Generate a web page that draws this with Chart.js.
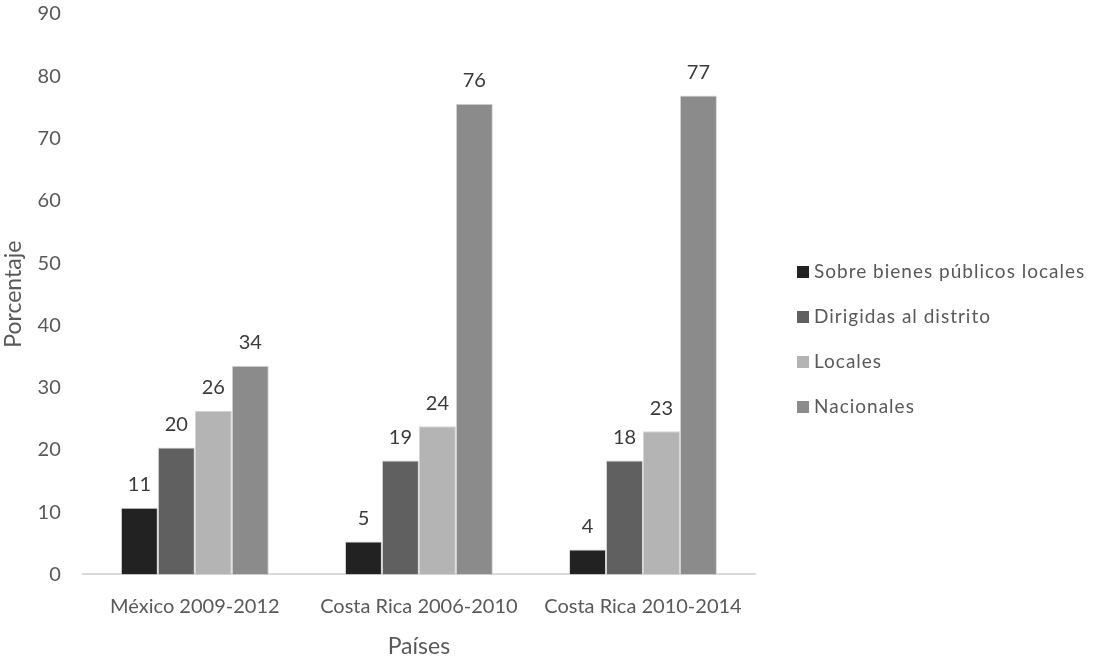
<!DOCTYPE html>
<html>
<head>
<meta charset="utf-8">
<script src="https://cdn.jsdelivr.net/npm/chart.js@4.4.0/dist/chart.umd.min.js"></script>
<style>
    html, body { margin: 0; padding: 0; background: #fff; }
    #wrap { width: 1097px; height: 662px; }
</style>
</head>
<body>
<div id="wrap"><canvas id="chart"></canvas></div>
<script>
// data
const categories = ['México 2009-2012', 'Costa Rica 2006-2010', 'Costa Rica 2010-2014'];
const seriesNames = ['Sobre bienes públicos locales', 'Dirigidas al distrito', 'Locales', 'Nacionales'];
const bienesPublicos = [10.7, 5.3, 4.0];
const dirigidas = [20.4, 18.3, 18.3];
const locales = [26.3, 23.8, 23.0];
const nacionales = [33.5, 75.6, 76.9];
// printed labels (as shown on the chart)
const bienesLabels = ['11', '5', '4'];
const dirigidasLabels = ['20', '19', '18'];
const localesLabels = ['26', '24', '23'];
const nacionalesLabels = ['34', '76', '77'];
const yMin = 0, yMax = 90, yStep = 10;

const FONT = 'Lato, "Open Sans", sans-serif';
const TEXT = '#595959';
const colors = ['#222222', '#5f605f', '#b4b4b5', '#8b8b8b'];

// value labels above bars
const barLabels = {
    id: 'barLabels',
    afterDatasetsDraw(chart) {
        const ctx = chart.ctx;
        ctx.save();
        ctx.font = '20px ' + FONT;
        ctx.fillStyle = '#3a3a3a';
        ctx.textAlign = 'center';
        ctx.textBaseline = 'middle';
        chart.data.datasets.forEach((ds, i) => {
            chart.getDatasetMeta(i).data.forEach((bar, j) => {
                ctx.fillText(ds.valueLabels[j], bar.x, bar.y - 23);
            });
        });
        ctx.restore();
    }
};

// legend on the right
const sideLegend = {
    id: 'sideLegend',
    afterDraw(chart) {
        const ctx = chart.ctx;
        const x = chart.chartArea.right + 42;
        const y0 = 272, gap = 45;
        ctx.save();
        ctx.font = '19px ' + FONT;
        ctx.letterSpacing = '1px';
        ctx.textBaseline = 'middle';
        chart.data.datasets.forEach((ds, i) => {
            const y = y0 + i * gap;
            ctx.fillStyle = ds.backgroundColor;
            ctx.fillRect(x, y - 6, 12, 12);
            ctx.fillStyle = TEXT;
            ctx.fillText(ds.label, x + 17, y);
        });
        ctx.restore();
    }
};

const ctx = document.getElementById('chart').getContext('2d');
new Chart(ctx, {
    type: 'bar',
    data: {
        labels: categories,
        datasets: [
            { label: seriesNames[0], data: bienesPublicos, valueLabels: bienesLabels, backgroundColor: colors[0] },
            { label: seriesNames[1], data: dirigidas, valueLabels: dirigidasLabels, backgroundColor: colors[1] },
            { label: seriesNames[2], data: locales, valueLabels: localesLabels, backgroundColor: colors[2] },
            { label: seriesNames[3], data: nacionales, valueLabels: nacionalesLabels, backgroundColor: colors[3] }
        ]
    },
    options: {
        responsive: true,
        maintainAspectRatio: false,
        animation: false,
        datasets: {
            bar: {
                categoryPercentage: 0.66,
                barPercentage: 1,
                borderWidth: 1,
                borderColor: '#d4d4d4'
            }
        },
        layout: { padding: { top: -1, right: 342, bottom: 2, left: 0 } },
        plugins: {
            legend: { display: false },
            tooltip: { enabled: false }
        },
        scales: {
            x: {
                grid: { display: false, drawTicks: true, tickLength: 18 },
                border: { display: true, color: '#d9d9d9', width: 2 },
                ticks: { color: TEXT, font: { family: FONT, size: 20 }, padding: 2, maxRotation: 0 },
                title: { display: true, text: 'Países', color: TEXT, font: { family: FONT, size: 23 }, padding: { top: 12, bottom: 0 } }
            },
            y: {
                min: yMin,
                max: yMax,
                grid: { display: false, drawTicks: true, tickLength: 20 },
                border: { display: false },
                ticks: { stepSize: yStep, color: TEXT, font: { family: FONT, size: 20 }, padding: 2 },
                title: { display: true, text: 'Porcentaje', color: TEXT, font: { family: FONT, size: 23 }, padding: { top: 0, bottom: 8 } }
            }
        }
    },
    plugins: [barLabels, sideLegend]
});
</script>
</body>
</html>
